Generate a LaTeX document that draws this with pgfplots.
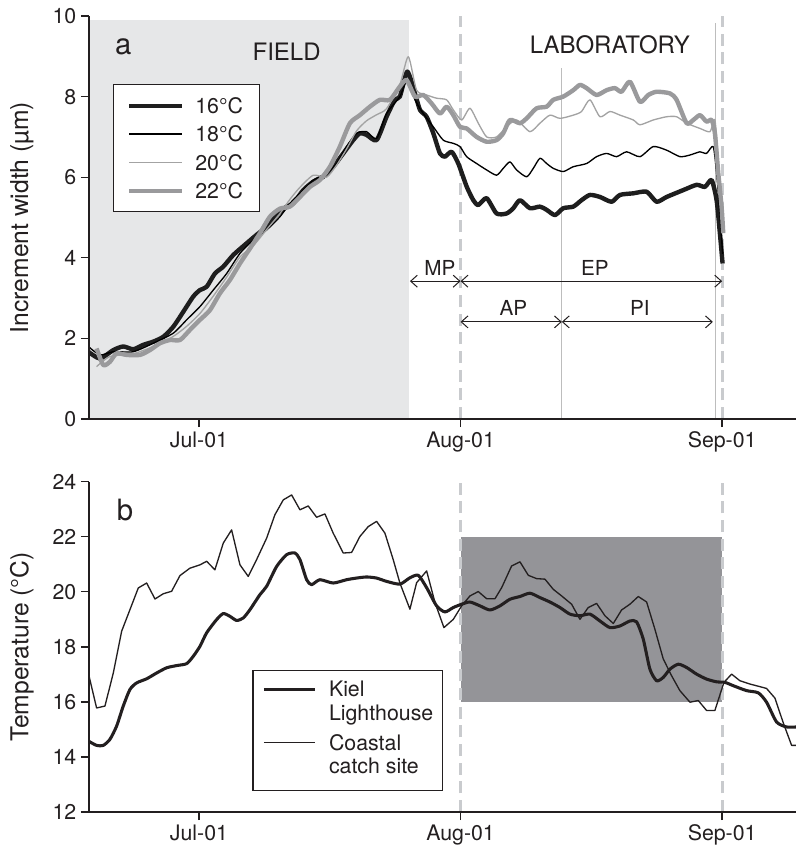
\documentclass[border=0pt]{standalone}
\usepackage{fontspec}
\setmainfont{TeX Gyre Heros}
\usepackage{pgfplots}
\pgfplotsset{compat=1.18}
\usetikzlibrary{arrows.meta}

\definecolor{ink}{HTML}{231F20}
\definecolor{fieldgray}{HTML}{E6E7E8}
\definecolor{labgray}{HTML}{949498}
\definecolor{dashgray}{HTML}{C9CBCE}
\definecolor{markgray}{HTML}{BDBDBD}
\definecolor{lightline}{HTML}{A3A3A3}
\definecolor{thickgray}{HTML}{9A9A9C}
\definecolor{deepblack}{HTML}{1E1E1E}

\tikzset{
  period/.style={{Straight Barb[length=5pt,width=9pt]}-{Straight Barb[length=5pt,width=9pt]}, ink, line width=0.75pt},
  guide/.style={dashgray, line width=2.2pt, dash pattern=on 9pt off 5pt},
}

\pgfplotsset{
  panel/.style={
    scale only axis, width=530.25pt,
    xmin=-13.03, xmax=70.75,
    axis on top,
    axis lines*=left,
    axis line style={-, line width=1pt, ink},
    tick align=outside, major tick length=6pt,
    tick style={line width=1pt, ink},
    xtick={0,31,62}, xticklabels={Jul-01,Aug-01,Sep-01},
    tick label style={font=\fontsize{16}{19}\selectfont, color=ink},
    /pgf/number format/assume math mode=true,
    every axis y label/.style={at={(axis description cs:-0.0948,0.5)}, rotate=90, anchor=center,
      font=\fontsize{18.5}{22}\selectfont, color=ink},
    legend cell align=left,
  },
}

\begin{document}
\begin{tikzpicture}

% ---------------- (a) increment width ----------------
\begin{axis}[panel,
  height=302.25pt,
  ymin=0, ymax=10, ytick={0,2,...,10},
  ylabel={Increment width (µm)},
  legend style={at={(axis cs:-10.19,8.31)}, anchor=north west,
    draw=ink, line width=1pt, fill=white,
    font=\fontsize{16}{19}\selectfont, text=ink,
    inner xsep=10pt, inner ysep=10pt, row sep=9.75pt, column sep=8pt,
    nodes={inner sep=0pt, text height=11.5pt, text depth=0pt, text width=38pt, align=left},
    cells={anchor=west}},
  legend image code/.code={\draw[#1] (0pt,0pt) -- (40pt,0pt);},
]
% field period
\addplot[fill=fieldgray, draw=none, forget plot] coordinates {(-13.03,0) (24.92,0) (24.92,9.9) (-13.03,9.9)} -- cycle;
% phase boundaries
\draw[guide] (axis cs:31,0) -- (axis cs:31,10);
\draw[guide] (axis cs:62,0) -- (axis cs:62,10);
\draw[markgray, line width=1pt] (axis cs:43,0) -- (axis cs:43,8.7);
\draw[markgray, line width=1pt] (axis cs:61.2,0) -- (axis cs:61.2,9.82);

\addplot[deepblack, line width=3.3pt, line join=round, smooth, tension=0.4] coordinates {
(-13.11,1.67) (-11.73,1.50) (-10.15,1.71) (-8.97,1.80) (-7.78,1.73) (-6.60,1.84) (-5.41,1.92) (-4.23,2.04) (-3.04,2.29) (-1.86,2.66) (-0.67,3.04) (0.12,3.20) (0.91,3.28) (1.89,3.61) (2.88,3.78) (4.07,4.07) (5.65,4.36) (6.83,4.57) (8.02,4.77) (9.20,5.06) (10.39,5.27) (11.18,5.35) (12.36,5.68) (13.55,5.89) (14.73,6.01) (15.91,6.26) (17.10,6.59) (18.28,6.92) (19.07,7.09) (19.86,7.05) (21.05,6.92) (22.23,7.50) (23.22,7.92) (23.81,8.00) (24.69,8.62) (25.60,8.08) (26.19,7.67) (26.98,7.50) (27.77,7.09) (28.56,6.59) (29.15,6.51) (29.94,6.63) (30.73,6.34) (31.72,5.77) (32.51,5.43) (33.10,5.31) (34.09,5.48) (35.27,5.10) (36.46,5.10) (37.25,5.23) (38.04,5.43) (39.22,5.23) (40.41,5.27) (41.20,5.19) (42.19,5.06) (43.17,5.23) (44.36,5.27) (45.34,5.43) (46.33,5.56) (47.52,5.51) (48.90,5.39) (49.89,5.56) (51.47,5.60) (53.05,5.64) (54.23,5.39) (55.42,5.51) (57.39,5.68) (58.97,5.81) (59.96,5.76) (60.75,5.93) (61.34,5.43) (61.73,4.61) (62.05,3.86)};
\addlegendentry{16°C}

\addplot[black, line width=1pt, line join=round, smooth, tension=0.4] coordinates {
(-13.11,1.80) (-11.73,1.59) (-10.15,1.67) (-7.78,1.67) (-5.41,1.88) (-3.04,2.13) (-1.46,2.46) (0.12,2.79) (1.70,3.20) (3.28,3.61) (4.86,4.11) (6.44,4.44) (8.02,4.69) (9.60,5.02) (10.78,5.35) (11.97,5.60) (13.55,5.93) (15.12,6.10) (16.31,6.34) (17.49,6.76) (18.68,7.09) (19.86,7.13) (21.05,6.96) (22.23,7.58) (23.81,8.00) (24.69,8.41) (25.60,7.92) (26.58,7.58) (27.77,7.25) (28.95,6.92) (30.14,6.84) (30.93,6.76) (31.72,6.51) (32.90,6.34) (34.09,6.18) (35.27,6.05) (36.06,6.22) (36.85,6.38) (37.64,6.18) (38.83,6.01) (39.62,6.22) (40.41,6.47) (41.20,6.34) (41.99,6.22) (43.17,6.14) (44.36,6.26) (45.94,6.34) (47.12,6.51) (48.31,6.59) (49.49,6.51) (50.68,6.63) (52.26,6.51) (53.84,6.76) (55.42,6.67) (56.99,6.51) (58.18,6.55) (59.37,6.63) (60.15,6.59) (60.94,6.76) (61.34,6.10) (61.73,5.10) (62.05,4.10)};
\addlegendentry{18°C}

\addplot[lightline, line width=1pt, line join=round, smooth, tension=0.4] coordinates {
(-12.13,1.30) (-10.55,1.55) (-7.78,1.62) (-5.41,1.80) (-3.04,2.05) (-1.46,2.30) (0.12,2.62) (1.70,3.05) (3.28,3.52) (4.86,4.02) (6.44,4.30) (8.02,4.70) (9.60,5.10) (10.78,5.45) (11.97,5.75) (13.55,6.05) (15.12,6.00) (16.31,6.30) (17.49,6.70) (18.68,7.15) (19.86,7.40) (21.05,7.55) (22.23,7.70) (23.81,8.30) (24.81,8.99) (25.79,8.16) (26.98,8.04) (28.16,7.96) (29.35,7.92) (30.14,7.67) (31.13,7.42) (32.11,7.71) (33.10,7.34) (34.09,7.00) (35.27,7.00) (36.46,7.25) (37.64,7.42) (39.22,7.13) (40.41,7.34) (41.59,7.54) (42.78,7.46) (44.36,7.54) (45.34,7.63) (46.33,7.92) (47.52,7.50) (48.70,7.63) (49.89,7.54) (51.47,7.42) (52.26,7.30) (53.84,7.42) (55.42,7.50) (56.60,7.50) (57.79,7.34) (59.37,7.21) (60.55,7.13) (61.14,7.42) (61.54,6.40) (61.93,5.20)};
\addlegendentry{20°C}

\addplot[thickgray, line width=3.3pt, line join=round, smooth, tension=0.4] coordinates {
(-12.13,1.75) (-11.34,1.34) (-10.55,1.42) (-9.76,1.63) (-8.57,1.59) (-6.99,1.59) (-5.81,1.71) (-4.62,1.88) (-3.44,1.96) (-2.25,1.96) (-1.07,2.21) (0.12,2.46) (1.30,2.70) (2.49,3.12) (3.67,3.45) (4.86,3.86) (6.04,4.23) (7.23,4.61) (8.41,5.02) (9.60,5.22) (10.78,5.27) (11.97,5.51) (13.15,5.76) (14.33,5.93) (15.52,6.26) (16.70,6.76) (17.89,7.34) (19.07,7.54) (20.26,7.75) (21.44,7.92) (22.63,7.92) (23.81,8.25) (24.61,8.41) (25.60,8.00) (26.58,8.04) (27.57,7.83) (28.56,7.58) (29.35,7.75) (30.14,7.54) (30.93,7.25) (31.72,7.21) (32.90,7.00) (34.09,6.88) (35.27,6.92) (36.06,7.09) (36.85,7.42) (38.04,7.34) (38.83,7.46) (40.01,7.71) (41.20,7.75) (41.99,7.92) (43.17,8.00) (44.36,8.16) (45.15,8.29) (45.94,8.21) (47.12,8.04) (48.31,8.16) (49.29,8.21) (50.08,8.12) (51.07,8.37) (52.26,7.87) (53.24,8.04) (54.23,8.12) (55.81,8.08) (56.60,7.92) (57.79,7.34) (58.58,7.42) (59.37,7.54) (60.15,7.38) (60.75,7.42) (61.14,7.09) (61.54,6.10) (61.93,5.27) (62.13,4.61)};
\addlegendentry{22°C}

% experimental phases
\draw[period] (axis cs:25,3.42) -- (axis cs:31,3.42);
\draw[period] (axis cs:31,3.42) -- (axis cs:62,3.42);
\draw[period] (axis cs:31,2.41) -- (axis cs:43,2.41);
\draw[period] (axis cs:43,2.41) -- (axis cs:60.9,2.41);
\begin{scope}[every node/.style={font=\fontsize{15.5}{18}\selectfont, text=ink}]
\node at (axis cs:28.55,3.74) {MP};
\node at (axis cs:46.92,3.74) {EP};
\node at (axis cs:37.25,2.75) {AP};
\node at (axis cs:52.26,2.75) {PI};
\end{scope}
\node[font=\fontsize{18}{22}\selectfont, text=ink] at (axis cs:10.39,9.11) {FIELD};
\node[font=\fontsize{18}{22}\selectfont, text=ink] at (axis cs:48.70,9.28) {LABORATORY};
\node[font=\fontsize{22}{26}\selectfont, text=ink] at (axis cs:-8.97,9.24) {a};
\end{axis}

% ---------------- (b) temperature ----------------
\begin{axis}[panel,
  at={(0pt,-294.75pt)}, anchor=south west,
  height=247.7pt,
  ymin=12, ymax=24, ytick={12,14,...,24},
  ylabel={Temperature (°C)},
  legend style={at={(axis cs:6.32,17.17)}, anchor=north west,
    draw=ink, line width=1pt, fill=white,
    font=\fontsize{16}{17.5}\selectfont, text=ink,
    inner xsep=7pt, inner ysep=7.5pt, row sep=5pt, column sep=9.5pt,
    nodes={inner sep=0pt, text height=12.25pt, text depth=22.75pt},
    cells={anchor=base west}},
  legend image code/.code={\draw[#1] (0pt,5.75pt) -- (38.25pt,5.75pt);},
]
% laboratory temperature range
\addplot[fill=labgray, draw=none, forget plot] coordinates {(31,16) (62,16) (62,22) (31,22)} -- cycle;
\draw[guide] (axis cs:31,12) -- (axis cs:31,24);
\draw[guide] (axis cs:62,12) -- (axis cs:62,24);

\addplot[ink, line width=2.3pt, line join=round, smooth, tension=0.4] coordinates {
(-13.11,14.58) (-12.13,14.42) (-11.34,14.42) (-10.55,14.64) (-9.76,15.12) (-8.97,15.85) (-8.18,16.45) (-7.39,16.69) (-6.20,16.84) (-5.02,17.05) (-3.83,17.24) (-2.65,17.32) (-1.46,17.39) (-0.67,17.66) (0.12,18.02) (0.91,18.51) (2.09,18.99) (2.88,19.21) (3.67,19.11) (4.46,18.96) (5.25,19.05) (6.04,19.35) (7.23,19.90) (8.02,20.20) (9.20,20.92) (10.39,21.35) (11.37,21.41) (11.97,21.17) (12.76,20.44) (13.35,20.26) (14.33,20.44) (15.91,20.32) (17.49,20.44) (18.68,20.50) (19.86,20.54) (21.05,20.50) (22.23,20.38) (23.81,20.28) (25.00,20.51) (25.99,20.60) (26.98,20.15) (28.16,19.49) (29.15,19.27) (30.14,19.43) (31.13,19.55) (32.11,19.63) (33.30,19.49) (34.48,19.34) (35.67,19.49) (36.85,19.73) (38.04,19.83) (39.22,19.95) (40.41,19.79) (41.59,19.63) (42.78,19.43) (43.96,19.19) (45.15,19.13) (46.33,19.19) (47.52,18.94) (48.70,18.70) (49.89,18.76) (51.07,18.94) (51.86,18.91) (52.65,18.28) (53.44,17.19) (54.23,16.77) (55.02,16.89) (55.81,17.19) (56.80,17.37) (57.79,17.25) (58.97,17.01) (60.15,16.83) (61.34,16.73) (62.33,16.71) (63.31,16.59) (64.89,16.41) (66.28,16.33) (67.26,15.99) (68.45,15.27) (69.63,15.09) (70.74,15.09)};
\addlegendentry{\begin{tabular}[t]{@{}l@{}}Kiel\\Lighthouse\end{tabular}}

\addplot[ink, line width=1pt, line join=round] coordinates {
(-13.11,17.05) (-12.13,15.78) (-11.14,15.85) (-10.15,17.05) (-9.16,18.57) (-8.18,19.35) (-7.19,20.14) (-6.20,20.32) (-5.21,19.74) (-4.23,19.93) (-3.24,20.02) (-2.25,20.59) (-1.07,20.86) (0.12,20.98) (0.91,21.11) (1.89,20.80) (2.88,21.77) (3.87,22.25) (4.86,20.98) (5.84,20.56) (6.83,21.17) (8.02,21.95) (9.00,22.80) (9.99,23.34) (10.98,23.52) (11.97,22.98) (12.95,23.12) (13.94,22.71) (14.93,22.83) (15.91,22.13) (17.10,21.41) (18.09,21.43) (19.07,22.01) (20.06,22.37) (21.05,22.56) (22.04,22.13) (23.02,21.17) (23.81,20.32) (25.00,19.37) (25.79,20.33) (26.98,20.76) (27.97,19.61) (29.03,18.70) (30.14,19.00) (31.13,19.49) (32.11,19.85) (33.10,20.01) (34.09,19.75) (35.08,19.75) (35.87,20.15) (37.05,20.94) (38.04,21.09) (39.03,20.60) (40.01,20.48) (41.00,20.46) (41.99,20.09) (42.98,19.85) (44.16,19.55) (45.15,19.00) (46.13,19.43) (47.12,19.58) (48.11,19.13) (49.10,18.85) (50.08,19.34) (51.07,19.55) (52.06,19.83) (53.05,19.63) (54.03,18.64) (55.02,17.56) (56.01,16.95) (56.99,16.41) (58.18,15.99) (59.17,16.05) (60.15,15.69) (61.14,15.69) (62.21,16.71) (63.12,17.01) (64.10,16.77) (65.29,16.65) (66.28,16.57) (67.26,16.49) (68.25,16.14) (69.24,15.24) (70.23,14.42) (70.74,14.42)};
\addlegendentry{\begin{tabular}[t]{@{}l@{}}Coastal\\catch site\end{tabular}}

\node[font=\fontsize{22}{26}\selectfont, text=ink] at (axis cs:-8.77,22.97) {b};
\end{axis}

\pgfresetboundingbox
\useasboundingbox (-66.75pt,-323.25pt) rectangle (530.25pt,314.25pt);
\end{tikzpicture}
\end{document}
